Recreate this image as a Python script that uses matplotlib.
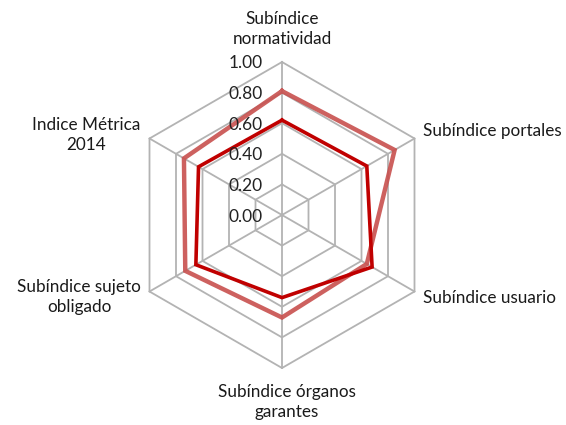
import numpy as np
import matplotlib.pyplot as plt

# categories clockwise from the top
categories = ["Subíndice\nnormatividad", "Subíndice portales", "Subíndice usuario",
              "Subíndice órganos\ngarantes", "Subíndice sujeto\nobligado", "Indice Métrica\n2014"]
serie_clara = [0.81, 0.85, 0.64, 0.67, 0.73, 0.74]
serie_oscura = [0.62, 0.64, 0.68, 0.54, 0.65, 0.63]
ticks = [0.0, 0.2, 0.4, 0.6, 0.8, 1.0]

plt.rcParams['font.family'] = ['Lato', 'DejaVu Sans']

W, H = 566, 425
cx, cy, R = 282, 215, 153   # centre and radius in pixels

fig = plt.figure(figsize=(W / 100, H / 100), dpi=100)
ax = fig.add_axes([0, 0, 1, 1])
ax.set_xlim(-cx / R, (W - cx) / R)
ax.set_ylim(-(H - cy) / R, cy / R)
ax.axis('off')

n = len(categories)
ang = np.pi / 2 - np.arange(n) * 2 * np.pi / n
ux, uy = np.cos(ang), np.sin(ang)

def closed(v):
    return np.append(v, v[0])

# grid
for t in ticks[1:]:
    ax.plot(closed(t * ux), closed(t * uy), color='#B3B3B3', lw=1.3, zorder=1)
for i in range(n):
    ax.plot([0, ux[i]], [0, uy[i]], color='#B3B3B3', lw=1.3, zorder=1)

# series
v = np.array(serie_clara)
ax.plot(closed(v * ux), closed(v * uy), color='#C8504E', lw=3.2, alpha=0.9,
        solid_joinstyle='miter', zorder=3)
v = np.array(serie_oscura)
ax.plot(closed(v * ux), closed(v * uy), color='#C00000', lw=2.6,
        solid_joinstyle='miter', zorder=4)

# radial tick labels
for t in ticks:
    ax.text(-19 / R, t - 1.5 / R, f"{t:.2f}", ha='right', va='center',
            fontsize=12.5, color='#222222', zorder=5)

# category labels (pixel positions)
lab_pos = [(282, 29, 'center'), (423, 131, 'left'), (423, 298, 'left'),
           (287, 402, 'center'), (79, 297, 'center'), (86, 135, 'center')]
for lab, (px, py, ha) in zip(categories, lab_pos):
    ax.text((px - cx) / R, (cy - py) / R, lab, ha=ha, va='center',
            fontsize=12.3, color='#1a1a1a', linespacing=1.25, multialignment='center')

fig.savefig("out.png", dpi=100)
